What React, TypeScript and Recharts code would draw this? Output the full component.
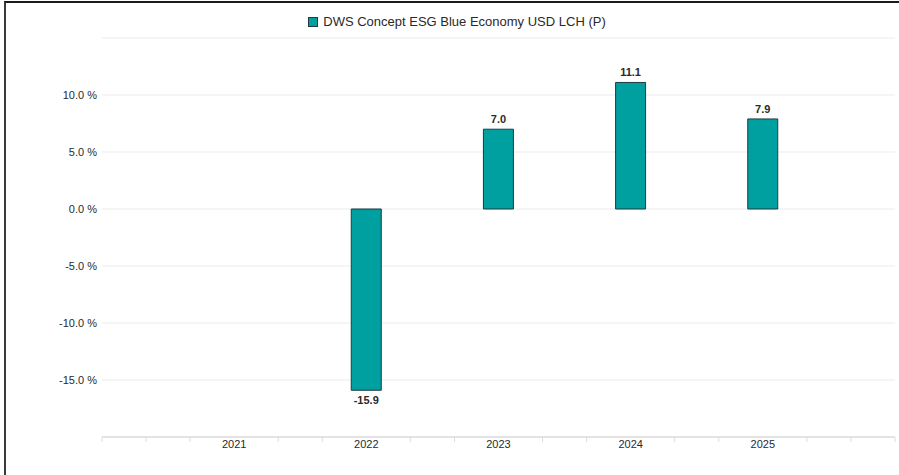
import { BarChart, Bar, XAxis, YAxis, CartesianGrid, Legend, LabelList } from "recharts";

const seriesName = "DWS Concept ESG Blue Economy USD LCH (P)";
const years = [2021, 2022, 2023, 2024, 2025];
const returns: (number | null)[] = [null, -15.9, 7.0, 11.1, 7.9];
const yTicks = [-20, -15, -10, -5, 0, 5, 10, 15];
// minor x ticks every third of a year, labels only on the years
const xTicks = Array.from({ length: 19 }, (_, i) => 2020 + i / 3);

const BAR_FILL = "#009FA0";
const BAR_STROKE = "#1d3b40";
const FONT = "'Liberation Sans', Arial, Helvetica, sans-serif";

const data = years.map((year, i) => ({ year, value: returns[i] }));

const isLabelYear = (v: number) =>
  Math.abs(v - Math.round(v)) < 1e-6 && years.includes(Math.round(v));

const XTick = (props: any) => {
  const { x, y, payload } = props;
  const v = payload.value as number;
  if (isLabelYear(v)) {
    return (
      <text x={x} y={y - 3} dy="0.71em" textAnchor="middle" fontSize={11} fill="#2a2a2a" fontFamily={FONT}>
        {Math.round(v)}
      </text>
    );
  }
  return <line x1={x} x2={x} y1={y - 6} y2={y - 1} stroke="#dcdcdc" strokeWidth={1} />;
};

const BarValue = (props: any) => {
  const { x, y, width, height, value } = props;
  if (value === null || value === undefined) return null;
  const top = Math.min(y, y + height);
  const bottom = Math.max(y, y + height);
  const cx = x + width / 2;
  const ty = value >= 0 ? top - 6 : bottom + 14;
  return (
    <text x={cx} y={ty} textAnchor="middle" fontSize={11} fontWeight={600} fill="#2a2a2a" fontFamily={FONT}>
      {Number(value).toFixed(1)}
    </text>
  );
};

const LegendContent = () => (
  <div
    style={{
      display: "flex",
      justifyContent: "center",
      alignItems: "center",
      paddingLeft: 15,
      fontFamily: FONT,
      fontSize: 13,
      lineHeight: "15px",
      color: "#2a2a2a",
    }}
  >
    <span
      style={{
        display: "inline-block",
        width: 8,
        height: 8,
        background: BAR_FILL,
        border: `1px solid ${BAR_STROKE}`,
        marginRight: 5,
      }}
    />
    <span>{seriesName}</span>
  </div>
);

export default function App() {
  return (
    <div style={{ position: "fixed", left: 0, top: 0, width: 899, height: 475, background: "#fff", overflow: "hidden" }}>
      <BarChart
        width={899}
        height={475}
        data={data}
        margin={{ top: 38, right: 4, left: 0, bottom: 8 }}
        style={{ fontFamily: FONT }}
      >
        <CartesianGrid vertical={false} stroke="#ebebeb" />
        <Legend
          verticalAlign="middle"
          align="center"
          wrapperStyle={{ top: 14, left: 0, width: 899 }}
          content={<LegendContent />}
        />
        <XAxis
          dataKey="year"
          type="number"
          domain={[2020, 2026]}
          ticks={xTicks}
          interval={0}
          height={30}
          axisLine={{ stroke: "#e3e3e3", strokeWidth: 2 }}
          tickLine={false}
          tickSize={6}
          tickMargin={0}
          tick={<XTick />}
        />
        <YAxis
          domain={[-20, 15]}
          ticks={yTicks}
          interval={0}
          width={102}
          axisLine={false}
          tickLine={false}
          tickSize={5}
          tickMargin={0}
          tick={{ fontSize: 11, fill: "#2a2a2a" }}
          tickFormatter={(v: number) => (v === -20 || v === 15 ? "" : `${v.toFixed(1)} %`)}
        />
        <Bar dataKey="value" fill={BAR_FILL} stroke={BAR_STROKE} strokeWidth={1} barSize={30} isAnimationActive={false}>
          <LabelList dataKey="value" content={<BarValue />} />
        </Bar>
      </BarChart>
      <div
        style={{
          position: "absolute",
          left: 4,
          top: 1,
          width: 895,
          height: 474,
          borderTop: "2px solid #1a1a1a",
          borderLeft: "2px solid #3a3a3a",
          pointerEvents: "none",
        }}
      />
    </div>
  );
}
